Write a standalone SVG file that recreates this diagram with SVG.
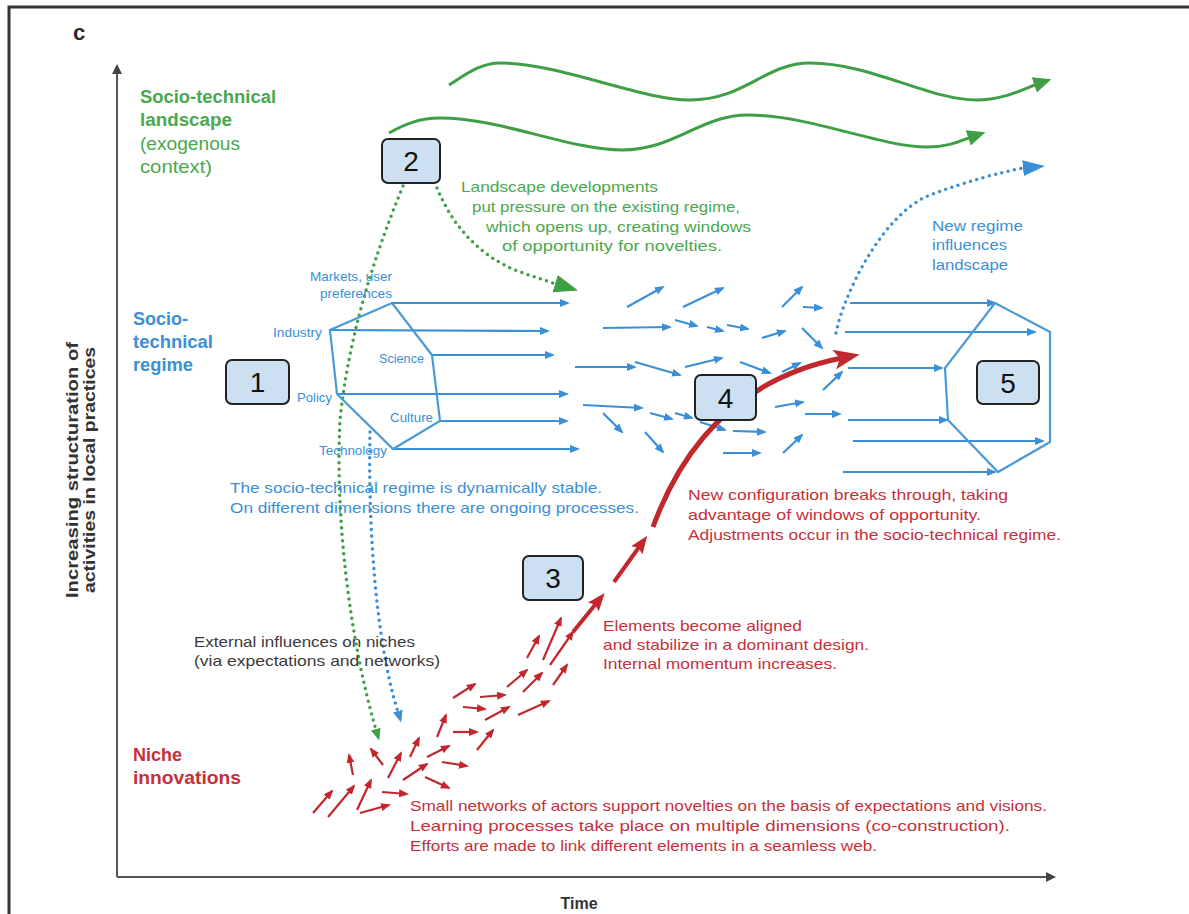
<svg xmlns="http://www.w3.org/2000/svg" width="1189" height="914" viewBox="0 0 1189 914">
<style>
text{font-family:"Liberation Sans",Arial,sans-serif}
.g{fill:#4aa84e}.b{fill:#3b8fd6}.r{fill:#c5303b}.k{fill:#3a3a3a}
.bl{font-weight:bold;font-size:18px}
.m{font-size:15px}
.s{font-size:13px}
.num{font-size:28px;fill:#111;text-anchor:middle}
.box{fill:#cde0f2;stroke:#222;stroke-width:2}
.ba{stroke:#3b8fd6;stroke-width:2.2;fill:none;marker-end:url(#mB)}
.ra{stroke:#c1272d;stroke-width:2.2;fill:none;marker-end:url(#mR)}
.hex{stroke:#4a9ad8;stroke-width:2.2;fill:none}
.gw{stroke:#3f9f46;stroke-width:3;fill:none;marker-end:url(#mG)}
.gd{stroke:#3f9f46;stroke-width:3.5;fill:none;stroke-dasharray:0 6.5;stroke-linecap:round}
.bd{stroke:#3b8fd6;stroke-width:3.5;fill:none;stroke-dasharray:0 6.5;stroke-linecap:round}
.ax{stroke:#555;stroke-width:2;fill:none}
</style>
<defs>
<marker id="mB" markerUnits="userSpaceOnUse" viewBox="0 0 10 8" markerWidth="10" markerHeight="8" refX="8" refY="4" orient="auto"><path d="M0,0 L10,4 L0,8 z" fill="#3b8fd6"/></marker>
<marker id="mR" markerUnits="userSpaceOnUse" viewBox="0 0 10 8" markerWidth="10" markerHeight="8" refX="8" refY="4" orient="auto"><path d="M0,0 L10,4 L0,8 z" fill="#c1272d"/></marker>
<marker id="mRB" markerUnits="userSpaceOnUse" viewBox="0 0 18 14" markerWidth="18" markerHeight="14" refX="9" refY="7" orient="auto"><path d="M0,0 L18,7 L0,14 L3,7 z" fill="#c1272d"/></marker>
<marker id="mRM" markerUnits="userSpaceOnUse" viewBox="0 0 26 20" markerWidth="26" markerHeight="20" refX="8" refY="10" orient="auto"><path d="M0,0 L26,10 L0,20 L6,10 z" fill="#c1272d"/></marker>
<marker id="mG" markerUnits="userSpaceOnUse" viewBox="0 0 18 16" markerWidth="18" markerHeight="16" refX="6" refY="8" orient="auto"><path d="M0,0 L18,8 L0,16 z" fill="#3f9f46"/></marker>
<marker id="mGD" markerUnits="userSpaceOnUse" viewBox="0 0 24 18" markerWidth="24" markerHeight="18" refX="2" refY="9" orient="auto"><path d="M0,0 L24,9 L0,18 z" fill="#3f9f46"/></marker>
<marker id="mGs" markerUnits="userSpaceOnUse" viewBox="0 0 12 10" markerWidth="12" markerHeight="10" refX="2" refY="5" orient="auto"><path d="M0,0 L12,5 L0,10 z" fill="#3f9f46"/></marker>
<marker id="mBs" markerUnits="userSpaceOnUse" viewBox="0 0 12 10" markerWidth="12" markerHeight="10" refX="2" refY="5" orient="auto"><path d="M0,0 L12,5 L0,10 z" fill="#3b8fd6"/></marker>
<marker id="mBD" markerUnits="userSpaceOnUse" viewBox="0 0 22 16" markerWidth="22" markerHeight="16" refX="2" refY="8" orient="auto"><path d="M0,0 L22,8 L0,16 z" fill="#3b8fd6"/></marker>
<marker id="mA" markerUnits="userSpaceOnUse" viewBox="0 0 10 10" markerWidth="10" markerHeight="10" refX="8" refY="5" orient="auto"><path d="M0,0 L10,5 L0,10 z" fill="#444"/></marker>
</defs>
<rect width="1189" height="914" fill="#fff"/>
<path d="M9,930 L9,7 L1200,7" fill="none" stroke="#333" stroke-width="3"/>
<text x="73" y="40" font-size="22" font-weight="bold" fill="#2a2a2a">c</text>

<g id="axes">
<path class="ax" d="M117,877 L117,66" marker-end="url(#mA)"/>
<path class="ax" d="M117,877 L1054,877" marker-end="url(#mA)"/>
<text x="579" y="909" font-size="16" font-weight="bold" fill="#333" text-anchor="middle">Time</text>
<g transform="translate(78,470) rotate(-90)">
<text x="0" y="0" font-size="16" font-weight="bold" fill="#333" text-anchor="middle" textLength="256" lengthAdjust="spacingAndGlyphs">Increasing structuration of</text>
<text x="0" y="17" font-size="16" font-weight="bold" fill="#333" text-anchor="middle" textLength="246" lengthAdjust="spacingAndGlyphs">activities in local practices</text>
</g>
</g>

<g id="level-labels">
<text class="g bl" x="140" y="103" textLength="136" lengthAdjust="spacingAndGlyphs">Socio-technical</text>
<text class="g bl" x="140" y="126" textLength="92" lengthAdjust="spacingAndGlyphs">landscape</text>
<text class="g" x="140" y="150" font-size="18" textLength="100" lengthAdjust="spacingAndGlyphs">(exogenous</text>
<text class="g" x="140" y="173" font-size="18" textLength="72" lengthAdjust="spacingAndGlyphs">context)</text>
<text class="b bl" x="133" y="325">Socio-</text>
<text class="b bl" x="133" y="348" textLength="80" lengthAdjust="spacingAndGlyphs">technical</text>
<text class="b bl" x="133" y="371" textLength="60" lengthAdjust="spacingAndGlyphs">regime</text>
<text class="r bl" x="133" y="761">Niche</text>
<text class="r bl" x="133" y="784" textLength="108" lengthAdjust="spacingAndGlyphs">innovations</text>
</g>

<g id="connectors">
<path class="gw" d="M449,85 C465,75 480,63 500,63 C560,63 640,100 690,100 C745,100 765,63 810,63 C870,63 930,100 976,100 C1005,100 1025,88 1040,83"/>
<path class="gw" d="M389,133 C405,124 420,118 440,118 C500,118 570,150 622,150 C675,150 700,115 748,115 C810,115 880,147 927,147 C950,147 962,140 974,136"/>
<path class="gd" d="M437,188 C450,220 475,255 520,272 L556,284"/>
<path d="M556,284 L557,284.3" stroke="#3f9f46" stroke-width="1" marker-end="url(#mGD)"/>
<path class="gd" d="M403,186 C385,230 350,320 340,420 C335,520 350,640 376,730"/>
<path d="M376,730 L376.3,731" stroke="#3f9f46" stroke-width="1" marker-end="url(#mGs)"/>
<path class="bd" d="M370,432 C368,520 375,640 398,712"/>
<path d="M398,712 L398.3,713" stroke="#3b8fd6" stroke-width="1" marker-end="url(#mBs)"/>
<path class="bd" d="M836,333 C842,300 880,215 930,195 C965,182 1000,172 1024,168"/>
<path d="M1024,168 L1025,167.9" stroke="#3b8fd6" stroke-width="1" marker-end="url(#mBD)"/>

<path class="ba" d="M392,303 L568,303"/>
<path class="ba" d="M330,330 L548,331"/>
<path class="ba" d="M432,355 L553,355"/>
<path class="ba" d="M337,394 L567,394"/>
<path class="ba" d="M440,421 L567,421"/>
<path class="ba" d="M393,449 L578,449"/>
<path class="ba" d="M627,307 L663,287"/>
<path class="ba" d="M683,307 L723,288"/>
<path class="ba" d="M782,307 L802,287"/>
<path class="ba" d="M803,307 L822,308"/>
<path class="ba" d="M603,328 L670,327"/>
<path class="ba" d="M675,320 L697,326"/>
<path class="ba" d="M707,327 L723,331"/>
<path class="ba" d="M727,325 L748,329"/>
<path class="ba" d="M762,338 L785,331"/>
<path class="ba" d="M802,328 L822,348"/>
<path class="ba" d="M575,367 L635,367"/>
<path class="ba" d="M635,362 L680,375"/>
<path class="ba" d="M685,367 L722,358"/>
<path class="ba" d="M740,362 L770,373"/>
<path class="ba" d="M782,372 L800,363"/>
<path class="ba" d="M823,390 L842,372"/>
<path class="ba" d="M583,405 L642,408"/>
<path class="ba" d="M603,413 L622,432"/>
<path class="ba" d="M650,413 L672,419"/>
<path class="ba" d="M675,413 L692,418"/>
<path class="ba" d="M700,422 L725,430"/>
<path class="ba" d="M645,432 L663,452"/>
<path class="ba" d="M733,431 L765,432"/>
<path class="ba" d="M775,407 L803,402"/>
<path class="ba" d="M805,414 L840,414"/>
<path class="ba" d="M723,453 L760,453"/>
<path class="ba" d="M783,453 L802,435"/>
<path class="ba" d="M850,303 L995,303"/>
<path class="ba" d="M845,332 L1035,332"/>
<path class="ba" d="M848,368 L942,368"/>
<path class="ba" d="M848,420 L947,420"/>
<path class="ba" d="M853,441 L1043,441"/>
<path class="ba" d="M843,472 L995,472"/>

<path class="ra" d="M313,813 L332,791"/>
<path class="ra" d="M328,817 L354,786"/>
<path class="ra" d="M357,810 L371,780"/>
<path class="ra" d="M360,813 L389,805"/>
<path class="ra" d="M382,792 L407,794"/>
<path class="ra" d="M353,775 L349,755"/>
<path class="ra" d="M383,765 L371,749"/>
<path class="ra" d="M388,778 L401,753"/>
<path class="ra" d="M403,780 L427,764"/>
<path class="ra" d="M425,777 L449,788"/>
<path class="ra" d="M410,757 L419,738"/>
<path class="ra" d="M427,757 L449,746"/>
<path class="ra" d="M442,762 L467,766"/>
<path class="ra" d="M437,737 L446,715"/>
<path class="ra" d="M453,732 L477,732"/>
<path class="ra" d="M477,750 L493,730"/>
<path class="ra" d="M453,698 L475,684"/>
<path class="ra" d="M463,707 L485,709"/>
<path class="ra" d="M485,720 L509,707"/>
<path class="ra" d="M480,697 L505,695"/>
<path class="ra" d="M507,687 L527,670"/>
<path class="ra" d="M518,715 L549,701"/>
<path class="ra" d="M523,692 L542,673"/>
<path class="ra" d="M553,685 L567,665"/>
<path class="ra" d="M527,658 L539,636"/>
<path class="ra" d="M543,660 L561,618"/>
<path class="ra" d="M550,665 L573,632"/>
<path d="M573,632 L599,600" stroke="#c1272d" stroke-width="4" fill="none" marker-end="url(#mRB)"/>
<path d="M614,582 L642,543" stroke="#c1272d" stroke-width="4" fill="none" marker-end="url(#mRB)"/>
<path d="M653,527 Q705,385 842,358" stroke="#c1272d" stroke-width="5" fill="none" marker-end="url(#mRM)"/>
</g>

<g id="regime-hexagons">
<path class="hex" d="M392,303 L432,355 L440,421 L393,449 L337,394 L330,330 Z"/>
<path class="hex" d="M995,303 L1050,332 L1050,442 L998,472 L948,420 L945,368 Z"/>
<text class="b s" x="392" y="281" text-anchor="end" textLength="82" lengthAdjust="spacingAndGlyphs">Markets, user</text>
<text class="b s" x="392" y="298" text-anchor="end" textLength="72" lengthAdjust="spacingAndGlyphs">preferences</text>
<text class="b s" x="273" y="337" textLength="49" lengthAdjust="spacingAndGlyphs">Industry</text>
<text class="b s" x="379" y="363" textLength="45" lengthAdjust="spacingAndGlyphs">Science</text>
<text class="b s" x="297" y="402" textLength="35" lengthAdjust="spacingAndGlyphs">Policy</text>
<text class="b s" x="390" y="422" textLength="43" lengthAdjust="spacingAndGlyphs">Culture</text>
<text class="b s" x="319" y="455" textLength="68" lengthAdjust="spacingAndGlyphs">Technology</text>
</g>

<g id="texts">
<text class="g m" x="461" y="192" textLength="197" lengthAdjust="spacingAndGlyphs">Landscape developments</text>
<text class="g m" x="472" y="212" textLength="268" lengthAdjust="spacingAndGlyphs">put pressure on the existing regime,</text>
<text class="g m" x="486" y="232" textLength="265" lengthAdjust="spacingAndGlyphs">which opens up, creating windows</text>
<text class="g m" x="502" y="251" textLength="220" lengthAdjust="spacingAndGlyphs">of opportunity for novelties.</text>
<text class="b m" x="932" y="231" textLength="91" lengthAdjust="spacingAndGlyphs">New regime</text>
<text class="b m" x="932" y="250" textLength="75" lengthAdjust="spacingAndGlyphs">influences</text>
<text class="b m" x="932" y="270" textLength="76" lengthAdjust="spacingAndGlyphs">landscape</text>
<text class="b m" x="230" y="493" textLength="372" lengthAdjust="spacingAndGlyphs">The socio-technical regime is dynamically stable.</text>
<text class="b m" x="230" y="513" textLength="409" lengthAdjust="spacingAndGlyphs">On different dimensions there are ongoing processes.</text>
<text class="r m" x="688" y="500" textLength="320" lengthAdjust="spacingAndGlyphs">New configuration breaks through, taking</text>
<text class="r m" x="688" y="520" textLength="293" lengthAdjust="spacingAndGlyphs">advantage of windows of opportunity.</text>
<text class="r m" x="688" y="540" textLength="373" lengthAdjust="spacingAndGlyphs">Adjustments occur in the socio-technical regime.</text>
<text class="r m" x="603" y="631" textLength="199" lengthAdjust="spacingAndGlyphs">Elements become aligned</text>
<text class="r m" x="603" y="650" textLength="266" lengthAdjust="spacingAndGlyphs">and stabilize in a dominant design.</text>
<text class="r m" x="603" y="669" textLength="234" lengthAdjust="spacingAndGlyphs">Internal momentum increases.</text>
<text class="k m" x="194" y="647" textLength="221" lengthAdjust="spacingAndGlyphs">External influences on niches</text>
<text class="k m" x="194" y="666" textLength="246" lengthAdjust="spacingAndGlyphs">(via expectations and networks)</text>
<text class="r m" x="410" y="811" textLength="637" lengthAdjust="spacingAndGlyphs">Small networks of actors support novelties on the basis of expectations and visions.</text>
<text class="r m" x="410" y="831" textLength="600" lengthAdjust="spacingAndGlyphs">Learning processes take place on multiple dimensions (co-construction).</text>
<text class="r m" x="410" y="851" textLength="467" lengthAdjust="spacingAndGlyphs">Efforts are made to link different elements in a seamless web.</text>
</g>

<g id="node-1"><rect class="box" x="226" y="360" width="63" height="44" rx="6"/><text class="num" x="257.5" y="392">1</text></g>
<g id="node-2"><rect class="box" x="382" y="139" width="58" height="44" rx="6"/><text class="num" x="411" y="171">2</text></g>
<g id="node-3"><rect class="box" x="523" y="556" width="60" height="44" rx="6"/><text class="num" x="553" y="588">3</text></g>
<g id="node-4"><rect class="box" x="695" y="375" width="61" height="45" rx="6"/><text class="num" x="725.5" y="408">4</text></g>
<g id="node-5"><rect class="box" x="977" y="361" width="62" height="43" rx="6"/><text class="num" x="1008" y="393">5</text></g>
</svg>
